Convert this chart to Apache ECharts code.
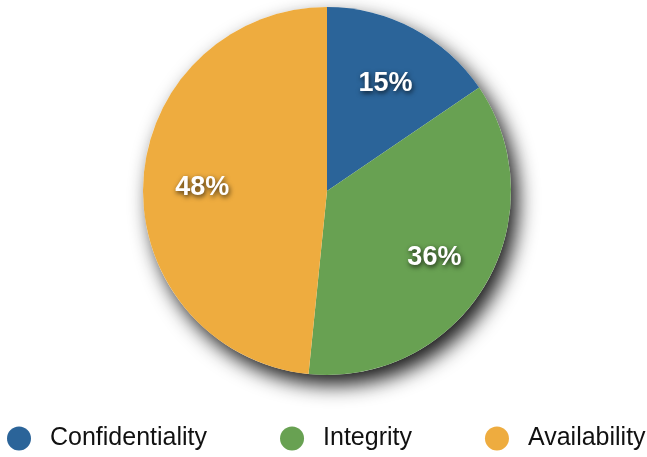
<!DOCTYPE html>
<html>
<head>
<meta charset="utf-8">
<script src="https://cdn.jsdelivr.net/npm/echarts@6/dist/echarts.min.js"></script>
<style>html,body{margin:0;padding:0;background:#fff;}#c{width:647px;height:457px;}</style>
</head>
<body>
<div id="c"></div>
<script>
var categories = ['Confidentiality', 'Integrity', 'Availability'];
var values = [15.5, 36.1, 48.4];
var colors = ['#2b6499', '#68a152', '#eeac3f'];

var total = values.reduce(function (a, b) { return a + b; }, 0);
var sliceData = categories.map(function (n, i) {
  return { name: n, value: values[i], itemStyle: { color: colors[i] } };
});
var labelData = categories.map(function (n, i) {
  return { name: n, value: values[i] };
});

var chart = echarts.init(document.getElementById('c'));
chart.setOption({
  animation: false,
  legend: {
    data: categories,
    left: 7,
    top: 426,
    width: 640,
    padding: 0,
    orient: 'horizontal',
    icon: 'circle',
    itemWidth: 24,
    itemHeight: 24,
    itemGap: 73,
    textStyle: { fontFamily: 'Liberation Sans', fontSize: 25, color: '#111', padding: [0, 0, 0, 14] }
  },
  series: [
    {
      type: 'pie',
      silent: true,
      center: [327, 191],
      radius: [0, 184],
      label: { show: false },
      labelLine: { show: false },
      itemStyle: { color: '#fff', shadowBlur: 20, shadowColor: 'rgba(0,0,0,0.9)', shadowOffsetX: 7, shadowOffsetY: 10 },
      data: [{ name: 'shadow', value: total }],
      z: 1
    },
    {
      type: 'pie',
      center: [327, 191],
      radius: [0, 184],
      startAngle: 90,
      clockwise: true,
      label: { show: false },
      labelLine: { show: false },
      itemStyle: { borderWidth: 0 },
      emphasis: { disabled: true },
      data: sliceData,
      z: 2
    },
    {
      type: 'pie',
      silent: true,
      center: [327, 191],
      radius: [60, 184],
      startAngle: 90,
      clockwise: true,
      itemStyle: { color: 'rgba(0,0,0,0)' },
      labelLine: { show: false },
      label: {
        show: true,
        position: 'inside',
        offset: [0, 3],
        formatter: function (p) { return Math.floor(p.value) + '%'; },
        color: '#fff',
        fontFamily: 'Liberation Sans',
        fontWeight: 'bold',
        fontSize: 27,
        textBorderWidth: 0,
        textShadowColor: 'rgba(0,0,0,0.75)',
        textShadowBlur: 5,
        textShadowOffsetX: 1,
        textShadowOffsetY: 2
      },
      data: labelData,
      z: 3
    }
  ]
});
</script>
</body>
</html>
